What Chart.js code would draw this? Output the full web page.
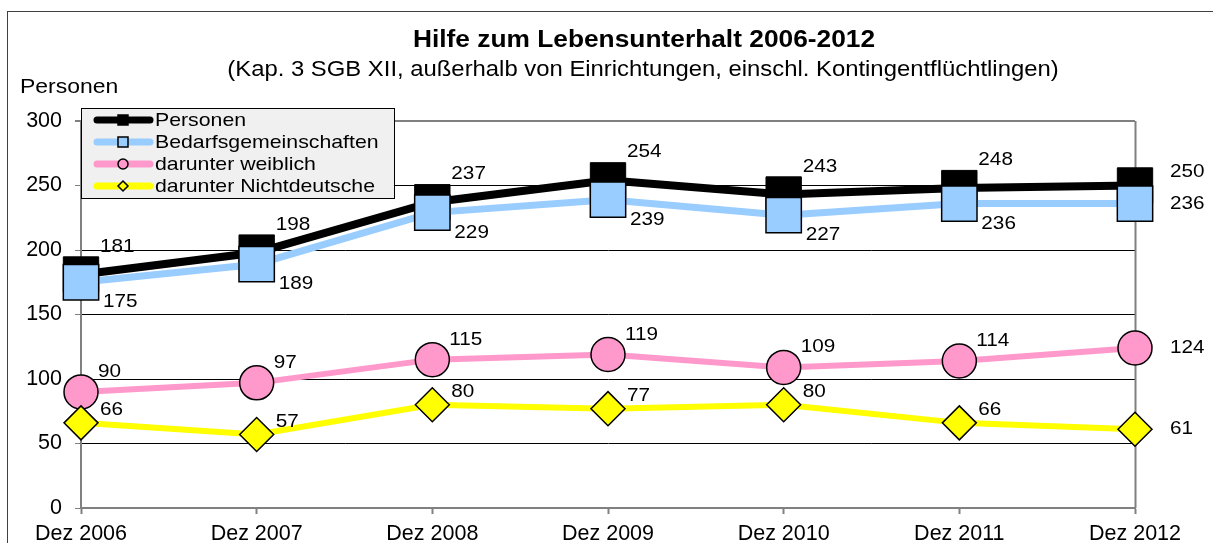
<!DOCTYPE html>
<html>
<head>
<meta charset="utf-8">
<script src="https://cdn.jsdelivr.net/npm/chart.js@4"></script>
<style>
  html, body { margin: 0; padding: 0; background: #fff; }
</style>
</head>
<body>
<canvas id="chart" width="1213" height="543"></canvas>
<script>
// data
const categories = ['Dez 2006', 'Dez 2007', 'Dez 2008', 'Dez 2009', 'Dez 2010', 'Dez 2011', 'Dez 2012'];
const personen = [181, 198, 237, 254, 243, 248, 250];
const bedarfsgemeinschaften = [175, 189, 229, 239, 227, 236, 236];
const weiblich = [90, 97, 115, 119, 109, 114, 124];
const nichtdeutsche = [66, 57, 80, 77, 80, 66, 61];
const yTicks = [0, 50, 100, 150, 200, 250, 300];

const FONT = "'Liberation Sans', Arial, sans-serif";
const SX = 1.12; // the original text is a little wider than Arial

// label placement per series (relative to the point)
const labelPlace = [
    { dx: 19, dy: -28, lastDy: -14 },
    { dx: 22, dy: 20, lastDy: 0 },
    { dx: 17, dy: -20, lastDy: 0 },
    { dx: 19, dy: -13, lastDy: 0 }
];

function wideText(ctx, text, x, y, align) {
    ctx.save();
    ctx.translate(x, y);
    ctx.scale(SX, 1);
    ctx.textAlign = align;
    ctx.fillText(text, 0, 0);
    ctx.restore();
}

const decorPlugin = {
    id: 'decor',
    beforeDraw(chart) {
        const ctx = chart.ctx;
        ctx.save();
        ctx.fillStyle = '#fff';
        ctx.fillRect(0, 0, chart.width, chart.height);
        // outer frame
        ctx.strokeStyle = '#404040';
        ctx.lineWidth = 1;
        ctx.strokeRect(7.5, 11.5, chart.width + 10, chart.height + 10);
        // titles
        ctx.fillStyle = '#000';
        ctx.textBaseline = 'middle';
        ctx.font = 'bold 23.5px ' + FONT;
        wideText(ctx, 'Hilfe zum Lebensunterhalt 2006-2012', 644, 41, 'center');
        ctx.font = '21.3px ' + FONT;
        wideText(ctx, '(Kap. 3 SGB XII, außerhalb von Einrichtungen, einschl. Kontingentflüchtlingen)', 643, 70, 'center');
        ctx.font = '20.5px ' + FONT;
        wideText(ctx, 'Personen', 20, 87, 'left');
        ctx.restore();
    },
    beforeDatasetsDraw(chart) {
        const ctx = chart.ctx;
        const a = chart.chartArea;
        ctx.save();
        ctx.strokeStyle = '#808080';
        ctx.lineWidth = 2;
        ctx.beginPath();
        ctx.moveTo(a.right + 0.5, a.top);
        ctx.lineTo(a.right + 0.5, a.bottom);
        ctx.stroke();
        ctx.restore();
    },
    afterDatasetsDraw(chart) {
        const ctx = chart.ctx;
        ctx.save();
        ctx.font = '18.5px ' + FONT;
        ctx.fillStyle = '#000';
        ctx.textBaseline = 'middle';
        chart.data.datasets.forEach((ds, i) => {
            const meta = chart.getDatasetMeta(i);
            const p = labelPlace[i];
            meta.data.forEach((pt, j) => {
                const last = j === meta.data.length - 1;
                const dx = last ? 35 : p.dx;
                const dy = last ? p.lastDy : p.dy;
                wideText(ctx, String(ds.data[j]), pt.x + dx, pt.y + dy, 'left');
            });
        });
        ctx.restore();
    },
    afterDraw(chart) {
        // legend box inside the plot, top-left
        const ctx = chart.ctx;
        ctx.save();
        ctx.fillStyle = '#f0f0f0';
        ctx.fillRect(81, 108, 313, 90);
        ctx.strokeStyle = '#000';
        ctx.lineWidth = 1;
        ctx.strokeRect(81.5, 108.5, 313, 90);
        ctx.font = '19px ' + FONT;
        ctx.textBaseline = 'middle';
        chart.data.datasets.forEach((ds, i) => {
            const y = 120 + i * 22;
            ctx.strokeStyle = ds.borderColor;
            ctx.lineWidth = 7;
            ctx.lineCap = 'round';
            ctx.beginPath();
            ctx.moveTo(97, y);
            ctx.lineTo(150, y);
            ctx.stroke();
            ctx.lineCap = 'butt';
            ctx.fillStyle = ds.pointBackgroundColor;
            ctx.strokeStyle = '#000';
            ctx.lineWidth = 1.5;
            ctx.beginPath();
            if (ds.pointStyle === 'rect') {
                ctx.rect(118, y - 5, 10, 10);
            } else if (ds.pointStyle === 'circle') {
                ctx.arc(123, y, 5, 0, Math.PI * 2);
            } else {
                ctx.moveTo(123, y - 5);
                ctx.lineTo(128, y);
                ctx.lineTo(123, y + 5);
                ctx.lineTo(118, y);
                ctx.closePath();
            }
            ctx.fill();
            ctx.stroke();
            ctx.fillStyle = '#000';
            wideText(ctx, ds.label, 155, y + 1, 'left');
        });
        ctx.restore();
    }
};

const ctx = document.getElementById('chart').getContext('2d');
new Chart(ctx, {
    type: 'line',
    data: {
        labels: categories,
        datasets: [
            {
                label: 'Personen',
                data: personen,
                borderColor: '#000000',
                borderWidth: 8,
                pointStyle: 'rect',
                pointRadius: 25,
                pointBackgroundColor: '#000000',
                pointBorderColor: '#000000',
                pointBorderWidth: 1,
                order: 4
            },
            {
                label: 'Bedarfsgemeinschaften',
                data: bedarfsgemeinschaften,
                borderColor: '#99ccff',
                borderWidth: 7,
                pointStyle: 'rect',
                pointRadius: 25,
                pointBackgroundColor: '#99ccff',
                pointBorderColor: '#000000',
                pointBorderWidth: 1.5,
                order: 1
            },
            {
                label: 'darunter weiblich',
                data: weiblich,
                borderColor: '#ff99cc',
                borderWidth: 6,
                pointStyle: 'circle',
                pointRadius: 17,
                pointBackgroundColor: '#ff99cc',
                pointBorderColor: '#000000',
                pointBorderWidth: 1.5,
                order: 3
            },
            {
                label: 'darunter Nichtdeutsche',
                data: nichtdeutsche,
                borderColor: '#ffff00',
                borderWidth: 6,
                pointStyle: 'rectRot',
                pointRadius: 17,
                pointBackgroundColor: '#ffff00',
                pointBorderColor: '#000000',
                pointBorderWidth: 1.5,
                order: 2
            }
        ]
    },
    options: {
        responsive: false,
        animation: false,
        tension: 0,
        layout: { padding: { top: 121, right: 78, left: 0, bottom: 0 } },
        plugins: {
            legend: { display: false },
            title: { display: false },
            tooltip: { enabled: false }
        },
        scales: {
            x: {
                offset: false,
                grid: {
                    drawOnChartArea: false,
                    drawTicks: true,
                    tickLength: 6,
                    tickColor: '#808080',
                    tickWidth: 2
                },
                border: { color: '#808080', width: 2 },
                ticks: {
                    font: { family: FONT, size: 21.5 },
                    color: '#000',
                    padding: 7,
                    maxRotation: 0,
                    autoSkip: false
                },
                afterFit(scale) { scale.height = 35; }
            },
            y: {
                min: 0,
                max: 300,
                afterBuildTicks(scale) {
                    scale.ticks = yTicks.map(v => ({ value: v }));
                },
                grid: {
                    color: c => (c.tick && (c.tick.value === 300 || c.tick.value === 0)) ? '#808080' : '#000000',
                    lineWidth: c => (c.tick && c.tick.value === 300) ? 2 : 1,
                    tickColor: '#808080',
                    tickLength: 6,
                    drawTicks: true
                },
                border: { color: '#808080', width: 2 },
                ticks: {
                    font: { family: FONT, size: 21.5 },
                    color: '#000',
                    padding: 13
                },
                afterFit(scale) { scale.width = 81; }
            }
        }
    },
    plugins: [decorPlugin]
});
</script>
</body>
</html>
